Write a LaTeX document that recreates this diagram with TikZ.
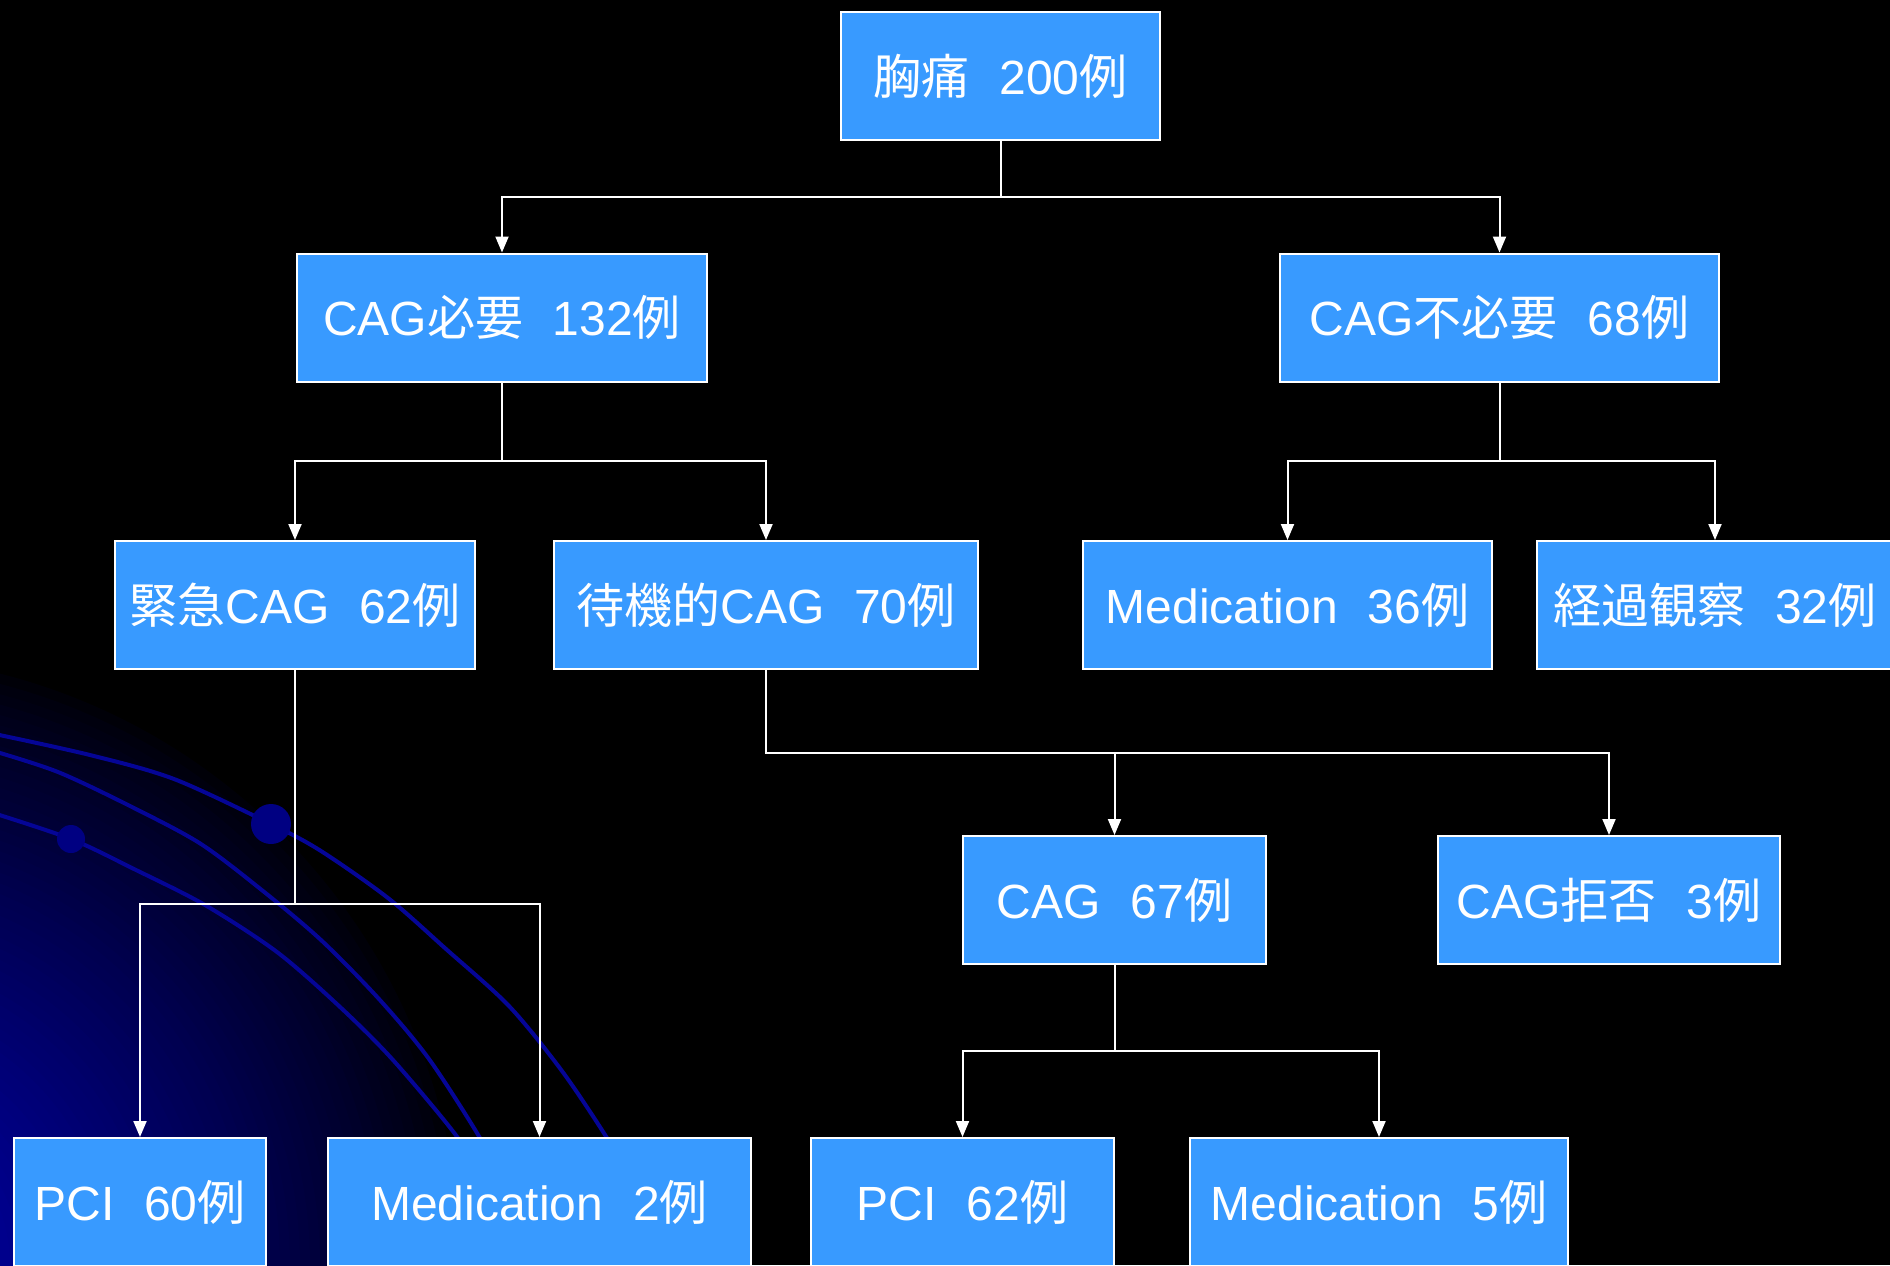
\documentclass[tikz,border=0pt]{standalone}
\usepackage{fontspec}
\setmainfont{Liberation Sans}
\newfontfamily\jp{Noto Sans CJK JP}
\usetikzlibrary{arrows.meta,calc}
\definecolor{BoxBlue}{RGB}{56,154,255}
\definecolor{GlowBlue}{RGB}{0,0,175}
\definecolor{OrbitBlue}{RGB}{5,5,150}
\definecolor{DotBlue}{RGB}{0,0,130}
\newcommand{\rgap}{\hspace{.62em}}

\begin{document}
\begin{tikzpicture}[x=0.5pt,y=-0.5pt,
  box/.style={draw=white,line width=1pt,fill=BoxBlue,text=white,minimum height=64pt,
              inner sep=0pt,font=\fontsize{24}{28}\selectfont},
  link/.style={draw=white,line width=1pt,-{Triangle[length=8pt,width=6.5pt]}},
  elbow/.style={to path={|- ($(\tikztostart)!.5!(\tikztotarget)$) -| (\tikztotarget)}},
  orbit/.style={OrbitBlue,line width=2pt},
]
\useasboundingbox (0,0) rectangle (1890,1265);
\fill[black] (0,0) rectangle (1890,1265);
\clip (0,0) rectangle (1890,1265);
\foreach \r in {620,610,...,10}{
  \pgfmathsetmacro\mix{100*(1-\r/620)^0.75}
  \pgfmathsetmacro\rad{\r/2}
  \fill[GlowBlue!\mix!black] (-150,1265) circle (\rad pt);
}
\draw[orbit] plot[smooth] coordinates {(-10,733) (90,755) (174,779) (271,824) (321,851)
  (388,898) (446,949) (509,1006) (562,1071) (607,1138) (630,1180)};
\draw[orbit] plot[smooth] coordinates {(-10,750) (58,772) (134,808) (201,844) (263,891)
  (321,940) (379,999) (429,1059) (480,1138) (500,1180)};
\draw[orbit] plot[smooth] coordinates {(-10,812) (71,839) (134,869) (205,905) (277,952)
  (339,1006) (393,1060) (458,1138) (480,1180)};
\fill[DotBlue] (271,824) circle (10pt);
\fill[DotBlue] (71,839) circle (7pt);

\node[box,minimum width=159.5pt] (chest) at (1000.5,76) {{\jp 胸痛}\rgap 200{\jp 例}};
\node[box,minimum width=205pt] (cagneed) at (502,317.5) {CAG{\jp 必要}\rgap 132{\jp 例}};
\node[box,minimum width=219.5pt] (cagnot) at (1499.5,317.5) {CAG{\jp 不必要}\rgap 68{\jp 例}};
\node[box,minimum width=180pt] (urgent) at (295,605) {{\jp 緊急}CAG\rgap 62{\jp 例}};
\node[box,minimum width=212pt] (elective) at (766,605) {{\jp 待機的}CAG\rgap 70{\jp 例}};
\node[box,minimum width=204.5pt] (med36) at (1287.5,605) {Medication\rgap 36{\jp 例}};
\node[box,minimum width=178pt] (observe) at (1715,605) {{\jp 経過観察}\rgap 32{\jp 例}};
\node[box,minimum width=151.5pt] (cag67) at (1114.5,900) {CAG\rgap 67{\jp 例}};
\node[box,minimum width=171pt] (refuse) at (1609,900) {CAG{\jp 拒否}\rgap 3{\jp 例}};
\node[box,minimum width=126pt] (pci60) at (140,1202) {PCI\rgap 60{\jp 例}};
\node[box,minimum width=211.5pt] (med2) at (539.5,1202) {Medication\rgap 2{\jp 例}};
\node[box,minimum width=151.5pt] (pci62) at (962.5,1202) {PCI\rgap 62{\jp 例}};
\node[box,minimum width=189pt] (med5) at (1379,1202) {Medication\rgap 5{\jp 例}};

\foreach \p/\c in {chest/cagneed,chest/cagnot,cagneed/urgent,cagneed/elective,
  cagnot/med36,cagnot/observe,elective/cag67,elective/refuse,
  urgent/pci60,urgent/med2,cag67/pci62,cag67/med5}
  \draw[link] (\p.south) to[elbow] (\c.north);
\end{tikzpicture}
\end{document}
